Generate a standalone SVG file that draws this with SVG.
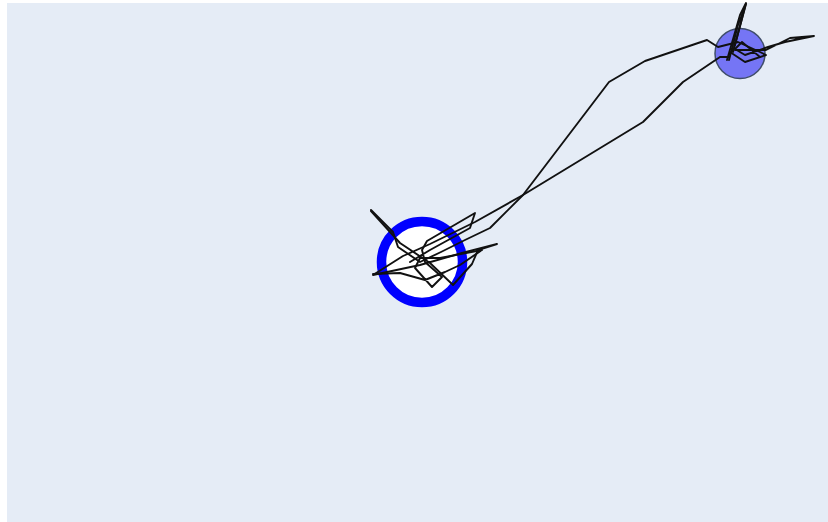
<svg xmlns="http://www.w3.org/2000/svg" width="828" height="522" viewBox="0 0 828 522">
<style>
.trk{fill:none;stroke:#111;stroke-width:1.9;stroke-linejoin:round;stroke-linecap:round}
</style>
<rect x="0" y="0" width="828" height="522" fill="#ffffff"/>
<rect x="7" y="3" width="821" height="519" fill="#e5ecf6"/>
<g id="node-start">
<circle cx="422" cy="262" r="40.5" fill="#ffffff" stroke="#0000ff" stroke-width="9.5"/>
</g>
<g id="node-end">
<circle cx="740" cy="53.5" r="25" fill="#7575f5" stroke="#3f4d6a" stroke-width="1.5"/>
</g>
<g id="connectors">
<path class="trk" d="M371,210 L393,232 L398,247 L420,262 L441,252 L465,240 L490,228 L523,195 L609,82 L645,61 L707,40 L718,47 L738,42 L760,52 L766,55 L745,62 L730,52 L727,60 L740,15 L746,3 L735,45"/>
<path class="trk" d="M729,57 L720,57 L683,82 L643,122 L523,195 L475,222 L430,244 L403,256 L373,275 L420,265 L462,253 L497,244 L478,250 L472,264 L453,285 L430,263 L400,243 L371,211"/>
<path class="trk" d="M373,274 L400,273 L425,280 L445,272 L460,265 L482,250 L440,258 L420,258 L415,268 L432,287 L442,277 L425,262 L422,250 L427,241 L475,213 L470,228 L430,250 L410,262"/>
<path class="trk" d="M735,50 L766,50 L790,38 L814,36 L785,42 L768,47 L745,55 L735,49 L742,42 L760,57"/>
<path class="trk" d="M729,60 L738,25 L746,4 L733,52"/>
</g>
</svg>
